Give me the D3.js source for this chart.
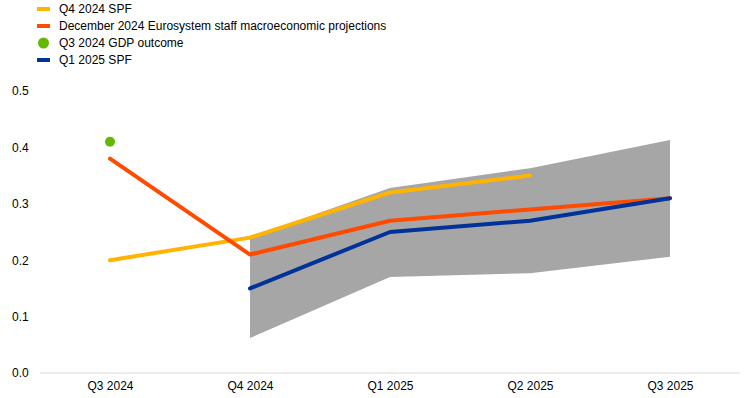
<!DOCTYPE html>
<html>
<head>
<meta charset="utf-8">
<script src="https://cdn.jsdelivr.net/npm/d3@7"></script>
<style>
  body { margin: 0; background: #fff; overflow: hidden; }
  svg { display: block; }
  svg text { font-family: "Liberation Sans", Arial, sans-serif; font-size: 12px; fill: #000; }
</style>
</head>
<body>
<svg></svg>
<script>
const w = 745
const h = 398

const quarters = ['Q3 2024', 'Q4 2024', 'Q1 2025', 'Q2 2025', 'Q3 2025']
const yTicks = [0, 0.1, 0.2, 0.3, 0.4, 0.5]

const spfQ4 = [0.20, 0.24, 0.32, 0.35, null]
const projDec = [0.38, 0.21, 0.27, 0.29, 0.31]
const gdpOutcome = [0.41, null, null, null, null]
const spfQ1 = [null, 0.15, 0.25, 0.27, 0.31]
const bandLow = [null, 0.062, 0.170, 0.177, 0.206]
const bandHigh = [null, 0.241, 0.328, 0.363, 0.413]

const legendItems = [
  {label: 'Q4 2024 SPF', color: '#ffb400', type: 'line'},
  {label: 'December 2024 Eurosystem staff macroeconomic projections', color: '#ff4b00', type: 'line'},
  {label: 'Q3 2024 GDP outcome', color: '#65b800', type: 'dot'},
  {label: 'Q1 2025 SPF', color: '#003299', type: 'line'}
]

const svg = d3.select('svg')
  .attr('width', w)
  .attr('height', h);

const margin = {top: 91, right: 5, bottom: 25, left: 40};
const innerWidth = w - margin.left - margin.right;
const innerHeight = h - margin.top - margin.bottom;

const xScale = d3.scalePoint()
  .domain(quarters)
  .range([70, innerWidth - 70]);

const yScale = d3.scaleLinear()
  .domain([0, 0.5])
  .range([innerHeight, 0]);

const g = svg.append('g')
  .attr('transform', `translate(${margin.left}, ${margin.top})`);

// y axis labels only
const yAxisG = g.append('g')
  .call(d3.axisLeft(yScale).tickValues(yTicks).tickFormat(d3.format('.1f')).tickSize(0))
  .attr('font-size', null).attr('font-family', null);
yAxisG.select('.domain').remove();
yAxisG.selectAll('text').attr('text-anchor', 'start').attr('x', -28);

// x axis
const xAxisG = g.append('g')
  .attr('transform', `translate(0, ${innerHeight})`)
  .call(d3.axisBottom(xScale).tickSize(0).tickPadding(8))
  .attr('font-size', null).attr('font-family', null);
xAxisG.select('.domain').attr('stroke', '#d9d9d9').attr('d', `M0,0H${innerWidth}`);

// uncertainty band
const bandData = quarters.map((q, i) => ({q, lo: bandLow[i], hi: bandHigh[i]}))
  .filter(d => d.lo != null);
g.append('path')
  .datum(bandData)
  .attr('fill', '#a6a6a6')
  .attr('d', d3.area()
    .x(d => xScale(d.q))
    .y0(d => yScale(d.lo))
    .y1(d => yScale(d.hi)));

const line = d3.line()
  .defined(d => d.v != null)
  .x(d => xScale(d.q))
  .y(d => yScale(d.v));

const drawLine = (vals, color) => {
  g.append('path')
    .datum(quarters.map((q, i) => ({q, v: vals[i]})))
    .attr('fill', 'none')
    .attr('stroke', color)
    .attr('stroke-width', 4)
    .attr('stroke-linejoin', 'round')
    .attr('stroke-linecap', 'round')
    .attr('d', line);
}

drawLine(spfQ4, '#ffb400');
drawLine(projDec, '#ff4b00');
drawLine(spfQ1, '#003299');

g.selectAll('circle.gdp')
  .data(quarters.map((q, i) => ({q, v: gdpOutcome[i]})).filter(d => d.v != null))
  .enter().append('circle')
  .attr('class', 'gdp')
  .attr('cx', d => xScale(d.q))
  .attr('cy', d => yScale(d.v))
  .attr('r', 5)
  .attr('fill', '#65b800');

// legend
const legend = svg.append('g').attr('transform', 'translate(37, 9)');
const li = legend.selectAll('g').data(legendItems)
  .enter().append('g')
  .attr('transform', (d, i) => `translate(0, ${i * 17})`);
li.filter(d => d.type === 'line').append('rect')
  .attr('x', 0).attr('y', -2).attr('width', 13).attr('height', 4)
  .attr('fill', d => d.color);
li.filter(d => d.type === 'dot').append('circle')
  .attr('cx', 6.5).attr('cy', 0).attr('r', 5.5)
  .attr('fill', d => d.color);
li.append('text')
  .attr('x', 22).attr('y', 0).attr('dy', '0.35em')
  .text(d => d.label);
</script>
</body>
</html>
